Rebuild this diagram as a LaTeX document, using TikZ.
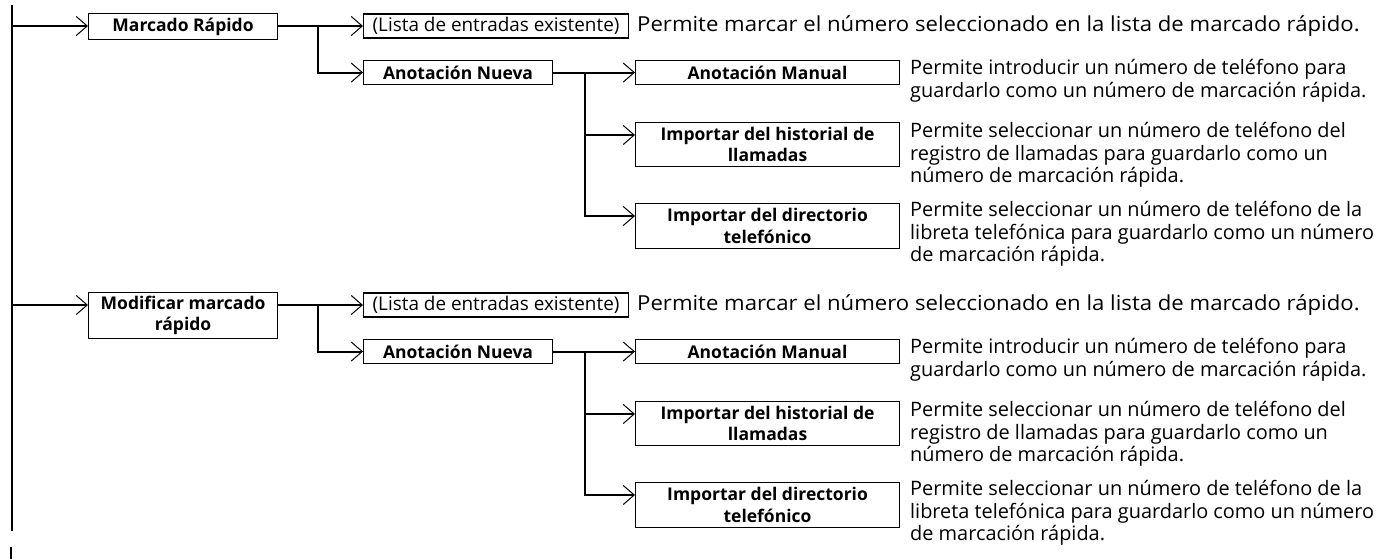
\documentclass[tikz,border=0pt]{standalone}
\usepackage{fontspec}
\setmainfont{Open Sans}
\newfontfamily\descfont[FakeStretch=1.07]{Open Sans}
\usetikzlibrary{arrows.meta}
\tikzset{
  mainline/.style={line width=2.6pt},
  conn/.style={line width=2pt},
  arr/.style={-{Straight Barb[length=11pt,width=19pt,line width=1pt]}},
  bbox/.style={draw, line width=1.1pt, inner sep=0pt, align=center,
    font=\bfseries\fontsize{17.5}{21.5}\selectfont},
  rbox/.style={draw, line width=1.1pt, inner sep=0pt, align=center,
    font=\fontsize{18.9}{22.5}\selectfont},
  desc/.style={inner sep=0pt, align=left, font=\fontsize{19.9}{22.6}\selectfont},
  descw/.style={inner sep=0pt, align=left, font=\descfont\fontsize{20.7}{22.5}\selectfont}
}
\begin{document}
\begin{tikzpicture}[x=1pt,y=-1pt]
\useasboundingbox (0,0) rectangle (1385,559);
% main vertical line
\coordinate (mtop) at (12,5);
\coordinate (mbot) at (12,531);
\coordinate (stop) at (11,547);
\coordinate (sbot) at (11,559);
\draw[mainline] (mtop) -- (mbot);
\draw[mainline] (stop) -- (sbot);
% top-level boxes
\node[bbox, anchor=north west, minimum width=189pt, minimum height=26pt] (a-top) at (88,13) {Marcado Rápido};
\node[bbox, anchor=north west, minimum width=189pt, minimum height=46pt] (b-top) at (88,292) {Modificar marcado\\rápido};
\foreach \g/\dy in {a/0,b/279}{
\begin{scope}[shift={(0,\dy)}]
  \coordinate (\g-m) at (12,26);
  \coordinate (\g-j1) at (318,26);
  \coordinate (\g-j2) at (585,72);
  \node[rbox, anchor=west, minimum width=265pt, minimum height=24pt] (\g-lista) at (363,26) {(Lista de entradas existente)};
  \node[descw, anchor=west] (\g-listad) at (637,26) {Permite marcar el número seleccionado en la lista de marcado rápido.};
  \node[bbox, anchor=north west, minimum width=189pt, minimum height=24pt] (\g-anot) at (363,60) {Anotación Nueva};
  \node[bbox, anchor=north west, minimum width=264pt, minimum height=24pt] (\g-man) at (635,60) {Anotación Manual};
  \node[bbox, anchor=north west, minimum width=264pt, minimum height=44pt] (\g-hist) at (635,122) {Importar del historial de\\llamadas};
  \node[bbox, anchor=north west, minimum width=264pt, minimum height=45pt] (\g-dir) at (635,203) {Importar del directorio\\telefónico};
  \node[desc, anchor=north west] (\g-mand) at (910,59) {Permite introducir un número de teléfono para\\guardarlo como un número de marcación rápida.};
  \node[desc, anchor=north west] (\g-histd) at (910,122) {Permite seleccionar un número de teléfono del\\registro de llamadas para guardarlo como un\\número de marcación rápida.};
  \node[desc, anchor=north west] (\g-dird) at (910,201) {Permite seleccionar un número de teléfono de la\\libreta telefónica para guardarlo como un número\\de marcación rápida.};
  \draw[conn,arr] (\g-m) -- (\g-m -| \g-top.west);
  \draw[conn] (\g-j1 -| \g-top.east) -- (\g-j1);
  \draw[conn,arr] (\g-j1) -- (\g-lista.west);
  \draw[conn,arr] (\g-j1) |- (\g-anot.west);
  \draw[conn,arr] (\g-anot.east) -- (\g-man.west);
  \draw[conn,arr] (\g-j2) |- ([yshift=-13pt]\g-hist.north west);
  \draw[conn,arr] (\g-j2) |- ([yshift=-13pt]\g-dir.north west);
\end{scope}
}
\end{tikzpicture}
\end{document}
